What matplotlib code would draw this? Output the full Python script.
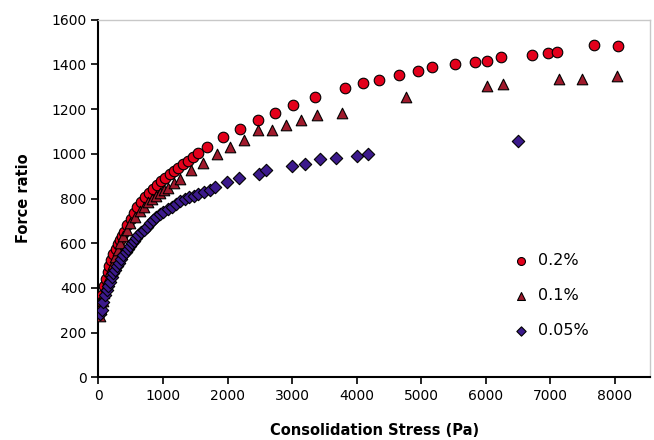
import matplotlib
matplotlib.use("Agg")
import matplotlib.pyplot as plt

# 0.2 %
x_02 = [15, 35, 60, 85, 110, 140, 170, 200, 230, 265,
        300, 335, 370, 400, 447, 499, 550, 602, 664, 721,
        783, 850, 907, 974, 1036, 1103, 1171, 1238, 1310, 1383,
        1460, 1548, 1677, 1935, 2198, 2468, 2736, 3011, 3361, 3817,
        4101, 4353, 4654, 4949, 5175, 5532, 5833, 6023, 6240, 6716,
        6964, 7104, 7682, 8050]
y_02 = [285, 330, 370, 410, 440, 470, 500, 525, 550, 575,
        598, 615, 632, 650, 680, 710, 735, 760, 783, 805,
        826, 844, 862, 878, 893, 908, 923, 938, 953, 968,
        984, 1002, 1032, 1077, 1112, 1153, 1184, 1220, 1254, 1294,
        1315, 1330, 1351, 1372, 1387, 1403, 1412, 1417, 1433, 1443,
        1452, 1457, 1488, 1484]

# 0.1 %
x_01 = [20, 40, 65, 90, 120, 150, 185, 220, 260, 300,
        340, 385, 435, 488, 566, 639, 705, 772, 830, 891,
        960, 1020, 1082, 1170, 1268, 1429, 1615, 1832, 2044, 2251,
        2468, 2695, 2907, 3135, 3392, 3770, 4767, 6023, 6276, 7140,
        7501, 8039]
y_01 = [275, 305, 340, 375, 410, 440, 475, 505, 540, 570,
        600, 630, 660, 689, 719, 743, 762, 783, 797, 811,
        825, 837, 848, 870, 889, 926, 960, 998, 1029, 1060,
        1105, 1105, 1130, 1151, 1172, 1183, 1253, 1305, 1311, 1335,
        1335, 1349]

# 0.05 %
x_005 = [30, 50, 75, 101, 125, 150, 178, 205, 230, 256,
         290, 320, 350, 385, 420, 455, 490, 515, 550, 585,
         620, 660, 700, 745, 798, 845, 891, 950, 1005, 1070,
         1135, 1200, 1268, 1340, 1408, 1480, 1548, 1640, 1729, 1806,
         1990, 2183, 2484, 2592, 2995, 3206, 3439, 3682, 4003, 4178,
         6499]
y_005 = [285, 301, 335, 368, 390, 410, 428, 448, 465, 480,
         498, 512, 530, 547, 562, 575, 588, 600, 612, 625,
         636, 648, 660, 673, 689, 703, 719, 730, 741, 752,
         763, 777, 790, 797, 805, 812, 820, 830, 840, 853,
         873, 890, 910, 926, 944, 954, 977, 981, 991, 1000,
         1057]

fig = plt.figure(figsize=(6.54, 4.40), dpi=100)
ax = fig.add_axes([0.1506, 0.1425, 0.8433, 0.8127])

ax.scatter(x_02, y_02, s=58, marker='o', color='#E3001B', edgecolors='black',
           linewidths=0.8, label='0.2%', zorder=3)
ax.scatter(x_01, y_01, s=58, marker='^', color='#A01A2C', edgecolors='black',
           linewidths=0.8, label='0.1%', zorder=3)
ax.scatter(x_005, y_005, s=40, marker='D', color='#3C1A8C', edgecolors='black',
           linewidths=0.8, label='0.05%', zorder=3)

ax.set_xlim(0, 8550)
ax.set_ylim(0, 1600)
ax.set_xticks(range(0, 8001, 1000))
ax.set_yticks(range(0, 1601, 200))
ax.tick_params(direction='out', length=5, width=1.2, labelsize=10, colors='black')

for s in ['left', 'bottom']:
    ax.spines[s].set_linewidth(1.5)
for s in ['top', 'right']:
    ax.spines[s].set_color('#c8c8c8')
    ax.spines[s].set_linewidth(1)

ax.set_xlabel('Consolidation Stress (Pa)', fontsize=10.5, fontweight='bold', labelpad=14)
ax.set_ylabel('Force ratio', fontsize=10.5, fontweight='bold', labelpad=15)

ax.legend(loc='upper left', bbox_to_anchor=(0.725, 0.365), frameon=False,
          fontsize=11.5, labelspacing=1.25, handletextpad=0.1, markerscale=0.75,
          borderaxespad=0)

fig.savefig('out.png', dpi=100)
